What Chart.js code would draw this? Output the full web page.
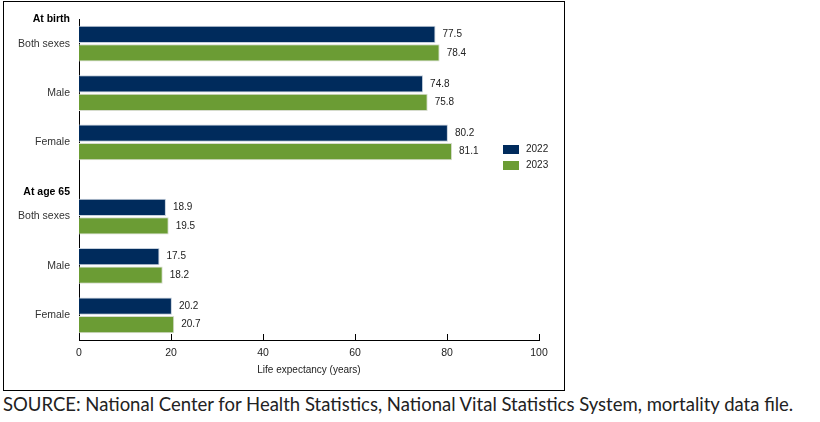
<!DOCTYPE html>
<html>
<head>
<meta charset="utf-8">
<script src="https://cdn.jsdelivr.net/npm/chart.js@4.4.1/dist/chart.umd.min.js"></script>
<style>
  body { margin: 0; background: #fff; }
  #caja { position: absolute; left: 3px; top: 1px; width: 560px; height: 388px; border: 1px solid #000; }
  #fuente { position: absolute; left: 3px; top: 393px; margin: 0; font-family: Lato, "Noto Sans", sans-serif; font-size: 18.5px; line-height: 22px; color: #222; white-space: nowrap; }
</style>
</head>
<body>
<div id="caja"><canvas id="myChart"></canvas></div>
<p id="fuente">SOURCE: National Center for Health Statistics, National Vital Statistics System, mortality data file.</p>
<script>
const grupos = ['At birth', 'At age 65'];
const sexos = ['Both sexes', 'Male', 'Female'];
const anios = ['2022', '2023'];
const valores2022 = [77.5, 74.8, 80.2, 18.9, 17.5, 20.2];
const valores2023 = [78.4, 75.8, 81.1, 19.5, 18.2, 20.7];
const ticksX = [0, 20, 40, 60, 80, 100];

const colores = ['#002b5c', '#6b9c34'];

// filas: cabecera, luego cada sexo seguido de un hueco
let etiquetas = [];
let cabeceras = [];
let datos2022 = [];
let datos2023 = [];
grupos.forEach((g, gi) => {
  cabeceras.push(etiquetas.length);
  etiquetas.push(g); datos2022.push(null); datos2023.push(null);
  sexos.forEach((s, si) => {
    etiquetas.push(s);
    datos2022.push(valores2022[gi * 3 + si]);
    datos2023.push(valores2023[gi * 3 + si]);
    etiquetas.push(''); datos2022.push(null); datos2023.push(null);
  });
});

const etiquetasValor = {
  id: 'etiquetasValor',
  afterDatasetsDraw(chart) {
    const ctx = chart.ctx;
    ctx.save();
    ctx.font = '10px "Liberation Sans", Arial, sans-serif';
    ctx.fillStyle = '#222';
    ctx.textAlign = 'left';
    ctx.textBaseline = 'middle';
    chart.data.datasets.forEach((ds, i) => {
      chart.getDatasetMeta(i).data.forEach((bar, j) => {
        if (ds.data[j] == null) return;
        ctx.fillText(ds.data[j].toFixed(1), bar.x + 7, bar.y);
      });
    });
    ctx.restore();
  }
};

// marcas del eje x hacia dentro
const marcasX = {
  id: 'marcasX',
  afterDraw(chart) {
    const ctx = chart.ctx;
    const x = chart.scales.x;
    const abajo = chart.chartArea.bottom;
    ctx.save();
    ctx.strokeStyle = '#000';
    ctx.lineWidth = 1;
    x.ticks.forEach(t => {
      const px = Math.round(x.getPixelForValue(t.value)) + 0.5;
      ctx.beginPath();
      ctx.moveTo(px, abajo);
      ctx.lineTo(px, abajo - 6);
      ctx.stroke();
    });
    ctx.restore();
  }
};

const leyenda = {
  id: 'leyenda',
  afterDraw(chart) {
    const ctx = chart.ctx;
    const x0 = chart.chartArea.right - 36;
    const y0 = 143;
    ctx.save();
    ctx.font = '10px "Liberation Sans", Arial, sans-serif';
    ctx.textBaseline = 'middle';
    chart.data.datasets.forEach((ds, i) => {
      const y = y0 + i * 16;
      ctx.fillStyle = ds.backgroundColor;
      ctx.fillRect(x0, y, 16, 9);
      ctx.fillStyle = '#222';
      ctx.fillText(ds.label, x0 + 23, y + 4.5);
    });
    ctx.restore();
  }
};

const grafico = document.getElementById('myChart');
new Chart(grafico, {
  type: 'bar',
  data: {
    labels: etiquetas,
    datasets: [{
      label: anios[0],
      data: datos2022,
      backgroundColor: colores[0],
      borderColor: '#c5d0dc',
      borderWidth: 1,
      categoryPercentage: 1.5,
      barPercentage: 0.93
    },
    {
      label: anios[1],
      data: datos2023,
      backgroundColor: colores[1],
      borderColor: '#d6dccd',
      borderWidth: 1,
      categoryPercentage: 1.5,
      barPercentage: 0.93
    }]
  },
  options: {
    indexAxis: 'y',
    responsive: true,
    maintainAspectRatio: false,
    animation: false,
    layout: { padding: { top: 17, right: 25, left: 0, bottom: 0 } },
    plugins: {
      legend: { display: false },
      tooltip: { enabled: false }
    },
    scales: {
      x: {
        min: 0,
        max: 100,
        afterBuildTicks: (s) => { s.ticks = ticksX.map(v => ({ value: v })); },
        afterFit: (s) => { s.height = 50; },
        grid: { display: false, drawTicks: false },
        border: { display: true, color: '#000', width: 1 },
        ticks: {
          padding: 7,
          color: '#222',
          font: { family: '"Liberation Sans", Arial, sans-serif', size: 10.5 }
        },
        title: {
          display: true,
          text: 'Life expectancy (years)',
          color: '#222',
          font: { family: '"Liberation Sans", Arial, sans-serif', size: 10 },
          padding: { top: 4, bottom: 14 }
        }
      },
      y: {
        offset: false,
        afterFit: (s) => { s.width = 75; },
        grid: { display: false, drawTicks: false, offset: false },
        border: { display: true, color: '#000', width: 1 },
        ticks: {
          autoSkip: false,
          padding: 9,
          color: (c) => cabeceras.includes(c.index) ? '#000' : '#333',
          font: (c) => ({
            family: '"Liberation Sans", Arial, sans-serif',
            size: 10.5,
            weight: cabeceras.includes(c.index) ? 'bold' : 'normal'
          })
        }
      }
    }
  },
  plugins: [etiquetasValor, marcasX, leyenda]
});
</script>
</body>
</html>
